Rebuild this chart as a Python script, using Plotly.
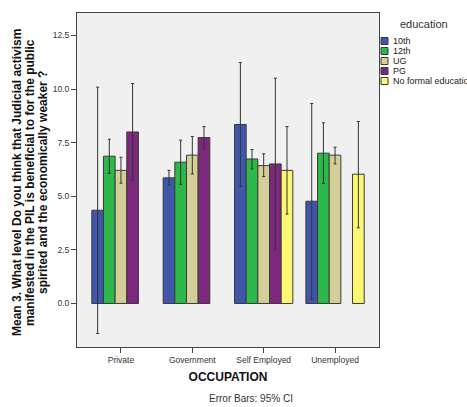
import plotly.graph_objects as go

categories = ["Private", "Government", "Self Employed", "Unemployed"]
series_names = ["10th", "12th", "UG", "PG", "No formal education"]
colors = ["#3F57AB", "#2FB84A", "#D4CF98", "#7C287C", "#FCF873"]

# means per education level, per occupation (None = no data)
means_10th = [4.35, 5.86, 8.35, 4.77]
means_12th = [6.87, 6.59, 6.74, 7.01]
means_ug = [6.21, 6.92, 6.43, 6.92]
means_pg = [8.00, 7.74, 6.51, None]
means_nofe = [None, None, 6.21, 6.03]

upper_10th = [10.09, 6.21, 11.24, 9.33]
lower_10th = [-1.40, 5.53, 5.47, 0.20]
upper_12th = [7.66, 7.62, 7.18, 8.43]
lower_12th = [6.07, 5.56, 6.28, 5.60]
upper_ug = [6.82, 7.79, 6.98, 7.29]
lower_ug = [5.61, 6.04, 5.92, 6.51]
upper_pg = [10.26, 8.25, 10.51, None]
lower_pg = [5.76, 7.21, 2.51, None]
upper_nofe = [None, None, 8.25, 8.49]
lower_nofe = [None, None, 4.17, 3.53]

y_ticks = [0.0, 2.5, 5.0, 7.5, 10.0, 12.5]

y_title_lines = [
    "Mean 3. What level Do you think that Judicial activism",
    "manifested in the PIL is beneficial to for the public",
    "spirited and the economically weaker ?",
]

all_means = [means_10th, means_12th, means_ug, means_pg, means_nofe]
all_upper = [upper_10th, upper_12th, upper_ug, upper_pg, upper_nofe]
all_lower = [lower_10th, lower_12th, lower_ug, lower_pg, lower_nofe]

fig = go.Figure()
for name, col, m, up, lo in zip(series_names, colors, all_means, all_upper, all_lower):
    plus = [(u - v) if v is not None else None for u, v in zip(up, m)]
    minus = [(v - l) if v is not None else None for l, v in zip(lo, m)]
    fig.add_trace(go.Bar(
        x=categories, y=m, name=name,
        marker=dict(color=col, line=dict(color="#3a3a3a", width=1)),
        error_y=dict(type="data", array=plus, arrayminus=minus, symmetric=False,
                     color="#333333", thickness=1, width=1.5),
        showlegend=False,
    ))

W, H = 467, 407
L, R, T, B = 77, 379, 13, 347

def px(x):
    return (x - L) / (R - L)

def py(y):
    return (B - y) / (B - T)

FONT = "Liberation Sans, Arial"
shapes = []
annotations = []
annotations.append(dict(text="education", x=px(424), y=py(24), xref="paper", yref="paper",
                        showarrow=False, xanchor="center", yanchor="middle",
                        font=dict(family=FONT, size=11, color="#333333")))
for i, (name, col) in enumerate(zip(series_names, colors)):
    cy = 41 + i * 10
    shapes.append(dict(type="rect", xref="paper", yref="paper",
                       x0=px(381), x1=px(388), y0=py(cy - 3.5), y1=py(cy + 3.5),
                       fillcolor=col, line=dict(color="#3a3a3a", width=1)))
    annotations.append(dict(text=name, x=px(390.5), y=py(cy), xref="paper", yref="paper",
                            showarrow=False, xanchor="left", yanchor="middle",
                            font=dict(family=FONT, size=9, color="#222222")))

for i, line in enumerate(y_title_lines):
    annotations.append(dict(text="<b>" + line + "</b>", x=px(17 + 13 * i), y=py(183),
                            xref="paper", yref="paper", showarrow=False, textangle=-90,
                            xanchor="center", yanchor="middle",
                            font=dict(family=FONT, size=12, color="#111111")))

annotations.append(dict(text="Error Bars: 95% CI", x=px(251), y=py(398), xref="paper", yref="paper",
                        showarrow=False, xanchor="center", yanchor="middle",
                        font=dict(family=FONT, size=10, color="#333333")))

fig.update_layout(
    width=W, height=H,
    margin=dict(l=L, r=W - R, t=T, b=H - B, autoexpand=False),
    paper_bgcolor="white", plot_bgcolor="#F0F0F0",
    barmode="group", bargap=0.183, bargroupgap=0,
    shapes=shapes, annotations=annotations,
    font=dict(family=FONT, color="#333333"),
    xaxis=dict(
        type="category", range=[-0.616, 3.616],
        showline=True, linecolor="#444444", linewidth=1, mirror=True,
        ticks="outside", ticklen=5, tickcolor="#444444",
        tickfont=dict(size=8.5, color="#333333"), showgrid=False,
        title=dict(text="<b>OCCUPATION</b>", font=dict(size=12, color="#111111"), standoff=8),
    ),
    yaxis=dict(
        range=[-2.03, 13.55], tickvals=y_ticks, ticktext=[f"{v:.1f}" for v in y_ticks],
        showline=True, linecolor="#444444", linewidth=1, mirror=True,
        ticks="outside", ticklen=5, tickcolor="#444444",
        tickfont=dict(size=8.5, color="#333333"), showgrid=False, zeroline=False,
    ),
)

fig.write_html("out.html", config={"displayModeBar": False},
               post_script="document.body.style.margin='0';document.body.style.overflow='hidden';")
